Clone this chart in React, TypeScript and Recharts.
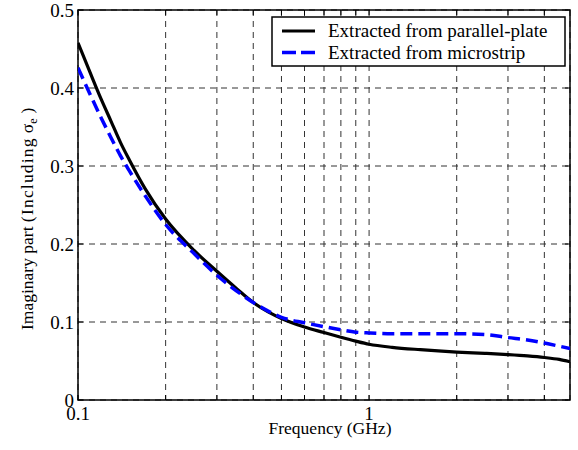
import React from "react";
import {
  LineChart,
  Line,
  XAxis,
  YAxis,
  CartesianGrid,
  ReferenceArea,
} from "recharts";

const freqs = [
  0.1, 0.11, 0.12, 0.13, 0.14, 0.15, 0.17, 0.2, 0.25, 0.3, 0.35, 0.4, 0.45,
  0.5, 0.6, 0.7, 0.8, 0.9, 1, 1.2, 1.5, 2, 2.5, 3, 3.5, 4, 4.5, 4.9,
];
const parallelPlate = [
  0.458, 0.42, 0.386, 0.357, 0.33, 0.308, 0.271, 0.232, 0.192, 0.165, 0.143,
  0.125, 0.113, 0.1045, 0.0935, 0.0865, 0.0805, 0.0755, 0.0715, 0.0675, 0.0645,
  0.0615, 0.0598, 0.0582, 0.0565, 0.0545, 0.052, 0.049,
];
const microstrip = [
  0.426, 0.392, 0.362, 0.336, 0.313, 0.294, 0.262, 0.225, 0.188, 0.16, 0.14,
  0.125, 0.114, 0.106, 0.099, 0.094, 0.09, 0.087, 0.086, 0.085, 0.085, 0.085,
  0.084, 0.08, 0.077, 0.073, 0.069, 0.066,
];
const seriesNames = ["Extracted from parallel-plate", "Extracted from microstrip"];
const xTicks = [0.1, 0.2, 0.3, 0.4, 0.5, 0.6, 0.7, 0.8, 0.9, 1, 2, 3, 4];
const xLabeled = [0.1, 1];
const yTicks = [0, 0.1, 0.2, 0.3, 0.4, 0.5];
const xDomain = [0.1, 4.9];
const yDomain = [0, 0.5];

const data = freqs.map((f, i) => ({
  f,
  pp: parallelPlate[i],
  ms: microstrip[i],
}));

const FONT = '"Liberation Serif", "Times New Roman", Times, serif';
const PLOT_TOP = 10;
const PLOT_BOTTOM = 400;
const PLOT_LEFT = 78;
const PLOT_RIGHT = 570;

const XTick = (props: any) => {
  const { x, payload } = props;
  const v = payload.value;
  const show = xLabeled.some((t) => Math.abs(t - v) < 1e-9);
  return (
    <g>
      <line x1={x} x2={x} y1={PLOT_BOTTOM} y2={PLOT_BOTTOM - 5} stroke="#000" strokeWidth={1} />
      <line x1={x} x2={x} y1={PLOT_TOP} y2={PLOT_TOP + 5} stroke="#000" strokeWidth={1} />
      {show && (
        <text x={x} y={420} textAnchor="middle" fontFamily={FONT} fontSize={19} fill="#000">
          {String(v)}
        </text>
      )}
    </g>
  );
};

const YTick = (props: any) => {
  const { y, payload } = props;
  const v = payload.value;
  return (
    <g>
      <line x1={PLOT_LEFT} x2={PLOT_LEFT + 5} y1={y} y2={y} stroke="#000" strokeWidth={1} />
      <line x1={PLOT_RIGHT} x2={PLOT_RIGHT - 5} y1={y} y2={y} stroke="#000" strokeWidth={1} />
      <text x={74} y={y + 6.5} textAnchor="end" fontFamily={FONT} fontSize={19} fill="#000">
        {v === 0 ? "0" : String(v)}
      </text>
    </g>
  );
};

export default function App() {
  return (
    <div
      style={{
        position: "absolute",
        left: 0,
        top: 0,
        width: 578,
        height: 450,
        background: "#fff",
        fontFamily: FONT,
      }}
    >
      <LineChart
        width={578}
        height={450}
        data={data}
        margin={{ top: PLOT_TOP, right: 578 - PLOT_RIGHT, left: 0, bottom: 0 }}
      >
        <CartesianGrid stroke="#333" strokeDasharray="6 5" strokeWidth={1} />
        <XAxis
          dataKey="f"
          type="number"
          scale="log"
          domain={xDomain}
          ticks={xTicks}
          allowDataOverflow
          height={450 - PLOT_BOTTOM}
          axisLine={false}
          tickLine={false}
          tick={<XTick />}
          interval={0}
        />
        <YAxis
          type="number"
          domain={yDomain}
          ticks={yTicks}
          width={PLOT_LEFT}
          axisLine={false}
          tickLine={false}
          tick={<YTick />}
          interval={0}
        />
        <Line
          dataKey="pp"
          type="monotone"
          stroke="#000"
          strokeWidth={3.2}
          dot={false}
          isAnimationActive={false}
        />
        <Line
          dataKey="ms"
          type="monotone"
          stroke="#0000ff"
          strokeWidth={3.5}
          strokeDasharray="12 6"
          dot={false}
          isAnimationActive={false}
        />
        <ReferenceArea
          x1={xDomain[0]}
          x2={xDomain[1]}
          y1={yDomain[0]}
          y2={yDomain[1]}
          fill="none"
          stroke="#000"
          strokeWidth={1.5}
          ifOverflow="visible"
        />
      </LineChart>
      <svg
        width={578}
        height={450}
        style={{ position: "absolute", left: 0, top: 0, pointerEvents: "none" }}
      >
        <text
          x={330}
          y={434}
          textAnchor="middle"
          fontFamily={FONT}
          fontSize={17.5}
          fill="#000"
        >
          Frequency (GHz)
        </text>
        <text
          x={33}
          y={330}
          transform="rotate(-90, 33, 330)"
          fontFamily={FONT}
          fontSize={17.5}
          fill="#000"
        >
          <tspan>Imaginary part </tspan>
          <tspan letterSpacing={1.2}>(Including</tspan>
          <tspan dx={4}>σ</tspan>
          <tspan fontSize={12} dy={4}>e</tspan>
          <tspan dx={5} dy={-4}>)</tspan>
        </text>
        <g>
          <rect x={272} y={17} width={293} height={49} fill="#fff" stroke="#000" strokeWidth={1.5} />
          <line x1={282} x2={315} y1={31} y2={31} stroke="#000" strokeWidth={3.2} />
          <text x={328} y={37} fontFamily={FONT} fontSize={19} fill="#000">
            {seriesNames[0]}
          </text>
          <line
            x1={282}
            x2={315}
            y1={52.5}
            y2={52.5}
            stroke="#0000ff"
            strokeWidth={3.5}
            strokeDasharray="14 5"
          />
          <text x={328} y={59} fontFamily={FONT} fontSize={19} fill="#000">
            {seriesNames[1]}
          </text>
        </g>
      </svg>
    </div>
  );
}
